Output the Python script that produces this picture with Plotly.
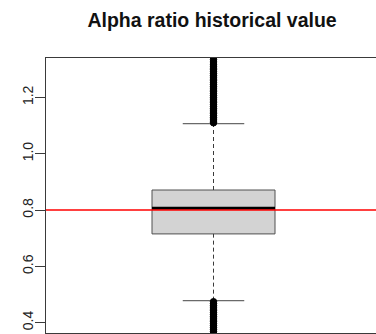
import plotly.graph_objects as go

# Summary statistics of the alpha ratio distribution
lower_whisker = 0.478
q1 = 0.715
median = 0.806
q3 = 0.871
upper_whisker = 1.107
reference_value = 0.8

# Outlying observations beyond the whiskers
upper_outliers = [1.110, 1.116, 1.123, 1.129, 1.135, 1.142, 1.148, 1.155, 1.161,
                  1.168, 1.174, 1.181, 1.187, 1.194, 1.200, 1.207, 1.213, 1.220,
                  1.226, 1.233, 1.239, 1.246, 1.252, 1.259, 1.265, 1.272, 1.278,
                  1.285, 1.291, 1.298, 1.304, 1.311, 1.318, 1.326, 1.334, 1.343,
                  1.356, 1.372]
lower_outliers = [0.474, 0.468, 0.461, 0.455, 0.448, 0.442, 0.435, 0.429, 0.422,
                  0.416, 0.409, 0.403, 0.396, 0.390, 0.383, 0.376, 0.369, 0.361,
                  0.352, 0.338]

tick_values = [0.4, 0.6, 0.8, 1.0, 1.2]
tick_labels = ["0.4", "0.6", "0.8", "1.0", "1.2"]

# Box geometry in axis units (box at position 1)
pos = 1.0
half_box = 0.4
half_cap = 0.2

FONT = "Liberation Sans, Arial, sans-serif"
DARK = "#3a3a3a"

fig = go.Figure()

# Box body
fig.add_trace(go.Scatter(
    x=[pos - half_box, pos + half_box, pos + half_box, pos - half_box, pos - half_box],
    y=[q1, q1, q3, q3, q1],
    mode="lines", fill="toself", fillcolor="#D3D3D3",
    line=dict(color="#505050", width=1), hoverinfo="skip"))

# Dashed whiskers
for a, b in [(q3, upper_whisker), (lower_whisker, q1)]:
    fig.add_trace(go.Scatter(x=[pos, pos], y=[a, b], mode="lines",
                             line=dict(color=DARK, width=1, dash="4px,3px"),
                             hoverinfo="skip"))

# Whisker staples
for v in [upper_whisker, lower_whisker]:
    fig.add_trace(go.Scatter(x=[pos - half_cap, pos + half_cap], y=[v, v],
                             mode="lines", line=dict(color="#6a6a6a", width=1.2),
                             hoverinfo="skip"))

# Median
fig.add_trace(go.Scatter(x=[pos - half_box, pos + half_box], y=[median, median],
                         mode="lines", line=dict(color="black", width=3),
                         hoverinfo="skip"))

# Outliers
outliers = upper_outliers + lower_outliers
fig.add_trace(go.Scatter(x=[pos] * len(outliers), y=outliers, mode="markers",
                         marker=dict(symbol="circle", size=6.5, color="black",
                                     line=dict(color="black", width=1)),
                         hoverinfo="skip"))

# Reference level
fig.add_shape(type="line", xref="paper", x0=0, x1=1, y0=reference_value,
              y1=reference_value, line=dict(color="#FF0000", width=1.4))

fig.update_layout(
    width=376, height=334,
    margin=dict(l=46, r=0, t=58, b=1),
    paper_bgcolor="white", plot_bgcolor="white",
    showlegend=False,
    font=dict(family=FONT, color="#222222"),
    title=dict(text="<b>Alpha ratio historical value</b>",
               font=dict(family=FONT, size=19.5, color="#111111"),
               xref="container", x=0.564, xanchor="center",
               yref="container", y=1 - 20 / 334, yanchor="middle"),
)
fig.update_xaxes(range=[-0.0894, 2.0569], showgrid=False, zeroline=False,
                 showticklabels=False, ticks="", showline=True, mirror=True,
                 linecolor=DARK, linewidth=1)
fig.update_yaxes(range=[0.363, 1.34], showgrid=False, zeroline=False,
                 tickvals=tick_values, ticktext=tick_labels, ticks="outside",
                 ticklen=10, tickcolor=DARK, tickwidth=1, tickangle=-90,
                 ticklabelstandoff=-4,
                 tickfont=dict(family=FONT, size=14, color="#222222"),
                 showline=True, mirror=False, linecolor=DARK, linewidth=1)

fig.write_html("out.html")
